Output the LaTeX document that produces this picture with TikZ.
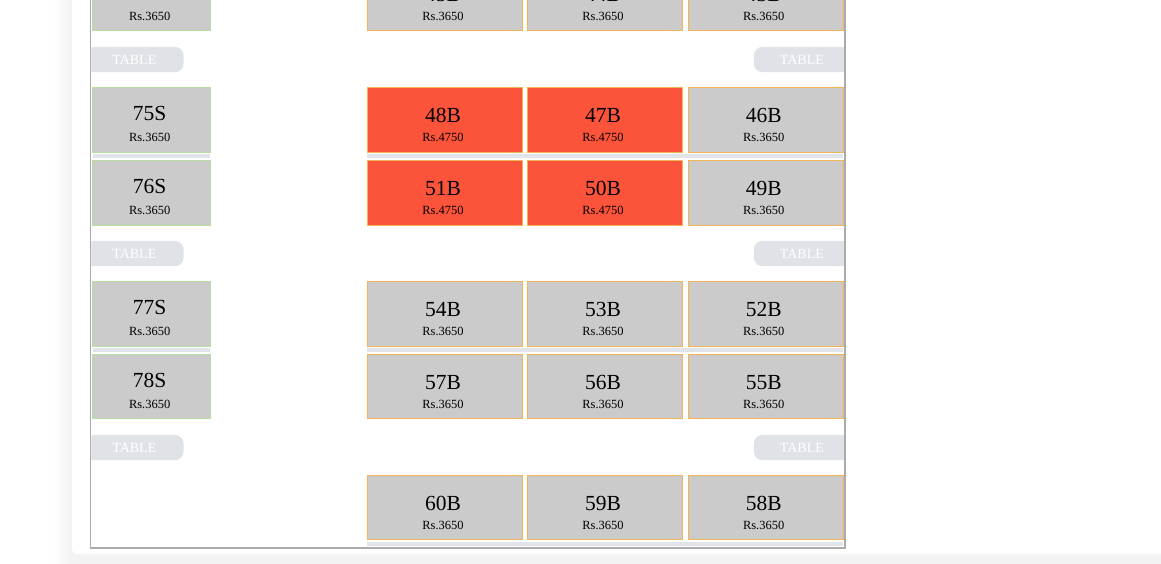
\documentclass[tikz,border=0pt]{standalone}
\usepackage{fontspec}
\setmainfont{Liberation Serif}
\definecolor{seatgray}{HTML}{CBCBCB}
\definecolor{seatred}{HTML}{FC543B}
\definecolor{borderorange}{HTML}{F3B456}
\definecolor{bordergreen}{HTML}{B6DEA0}
\definecolor{barcol}{HTML}{E1E5E9}
\definecolor{pillcol}{HTML}{DFE3E7}
\definecolor{framecol}{HTML}{ABABAB}
\tikzset{
  seatbox/.style={draw, line width=1pt, fill=seatgray, inner sep=0pt, outer sep=0pt,
                  minimum height=64.5pt, anchor=north west},
  bseat/.style={seatbox, draw=borderorange, minimum width=155.4pt},
  sseat/.style={seatbox, draw=bordergreen, minimum width=118pt},
  booked/.style={fill=seatred},
  seatno/.style={font=\fontsize{21.5}{24}\selectfont, anchor=base, inner sep=0pt, text=black},
  pricetag/.style={font=\fontsize{12.5}{14}\selectfont, anchor=base, inner sep=0pt, text=black},
  pill/.style={fill=pillcol, rounded corners=8.5pt, minimum height=25.3pt, inner sep=0pt,
               text=white, font=\fontsize{14}{16}\selectfont, anchor=north west},
  bar/.style={fill=barcol},
}
% name, x, y, style, price, label offset
\newcommand\mkseat[6]{%
  \node[#4] (s#1) at (#2,#3) {};
  \node[seatno] (s#1n) at ([shift={(-2,#6)}]s#1.north) {#1};
  \node[pricetag] (s#1p) at ([shift={(-2,54)}]s#1.north) {Rs.#5};
}
% seat whose number lies wholly above the picture: only its price shows
\newcommand\mkseattop[5]{%
  \node[#4] (s#1) at (#2,#3) {};
  \node[pricetag] (s#1p) at ([shift={(-2,54)}]s#1.north) {Rs.#5};
}
\begin{document}
\begin{tikzpicture}[x=1pt,y=-1pt]
\useasboundingbox (0,0) rectangle (1161,564);
\clip (0,0) rectangle (1161,564);
\fill[white] (0,0) rectangle (1161,564);
% card shadow
\foreach \k in {1,...,12}
  \fill[black, fill opacity=0.004] (72-1.5*\k,-50) rectangle (1300,600);
% card
\fill[white, rounded corners=5pt] (72,-50) rectangle (1300,554.3);

\begin{scope}
\clip (91.4,-60) rectangle (844.3,547.1);
% bars
\fill[bar] (367.3,154) rectangle (843.3,158.5);
\fill[bar] (93.3,154) rectangle (210.3,158.5);
\fill[bar] (367.3,348.2) rectangle (843.3,352.3);
\fill[bar] (93.3,348.2) rectangle (210.3,352.3);
\fill[bar] (367.3,542) rectangle (843.3,546);

% row 0
\mkseattop{74S}{92.7}{-33.8}{sseat}{3650}
\mkseat{45B}{367.3}{-33.5}{bseat}{3650}{35}
\mkseat{44B}{527.3}{-33.5}{bseat}{3650}{35}
\mkseat{43B}{688}{-33.5}{bseat}{3650}{35}
% row 1
\mkseat{75S}{92.7}{87.7}{sseat}{3650}{33}
\mkseat{48B}{367.3}{87.7}{bseat,booked}{4750}{35}
\mkseat{47B}{527.3}{87.7}{bseat,booked}{4750}{35}
\mkseat{46B}{688}{87.7}{bseat}{3650}{35}
% row 2
\mkseat{76S}{92.7}{160.5}{sseat}{3650}{33}
\mkseat{51B}{367.3}{160.5}{bseat,booked}{4750}{35}
\mkseat{50B}{527.3}{160.5}{bseat,booked}{4750}{35}
\mkseat{49B}{688}{160.5}{bseat}{3650}{35}
% row 3
\mkseat{77S}{92.7}{281.7}{sseat}{3650}{33}
\mkseat{54B}{367.3}{281.7}{bseat}{3650}{35}
\mkseat{53B}{527.3}{281.7}{bseat}{3650}{35}
\mkseat{52B}{688}{281.7}{bseat}{3650}{35}
% row 4
\mkseat{78S}{92.7}{354.2}{sseat}{3650}{33}
\mkseat{57B}{367.3}{354.2}{bseat}{3650}{35}
\mkseat{56B}{527.3}{354.2}{bseat}{3650}{35}
\mkseat{55B}{688}{354.2}{bseat}{3650}{35}
% row 5
\mkseat{60B}{367.3}{475.2}{bseat}{3650}{35}
\mkseat{59B}{527.3}{475.2}{bseat}{3650}{35}
\mkseat{58B}{688}{475.2}{bseat}{3650}{35}

% tables
\node[pill, minimum width=98.3pt] (tl1) at (85,46.7) {TABLE};
\node[pill, minimum width=96pt] (tr1) at (753.7,46.7) {TABLE};
\node[pill, minimum width=98.3pt] (tl2) at (85,240.7) {TABLE};
\node[pill, minimum width=96pt] (tr2) at (753.7,240.7) {TABLE};
\node[pill, minimum width=98.3pt] (tl3) at (85,434.7) {TABLE};
\node[pill, minimum width=96pt] (tr3) at (753.7,434.7) {TABLE};
\end{scope}

% frame
\draw[framecol, line width=1.4pt] (90.7,-10) -- (90.7,547.8) -- (845,547.8) -- (845,-10);
\end{tikzpicture}
\end{document}
